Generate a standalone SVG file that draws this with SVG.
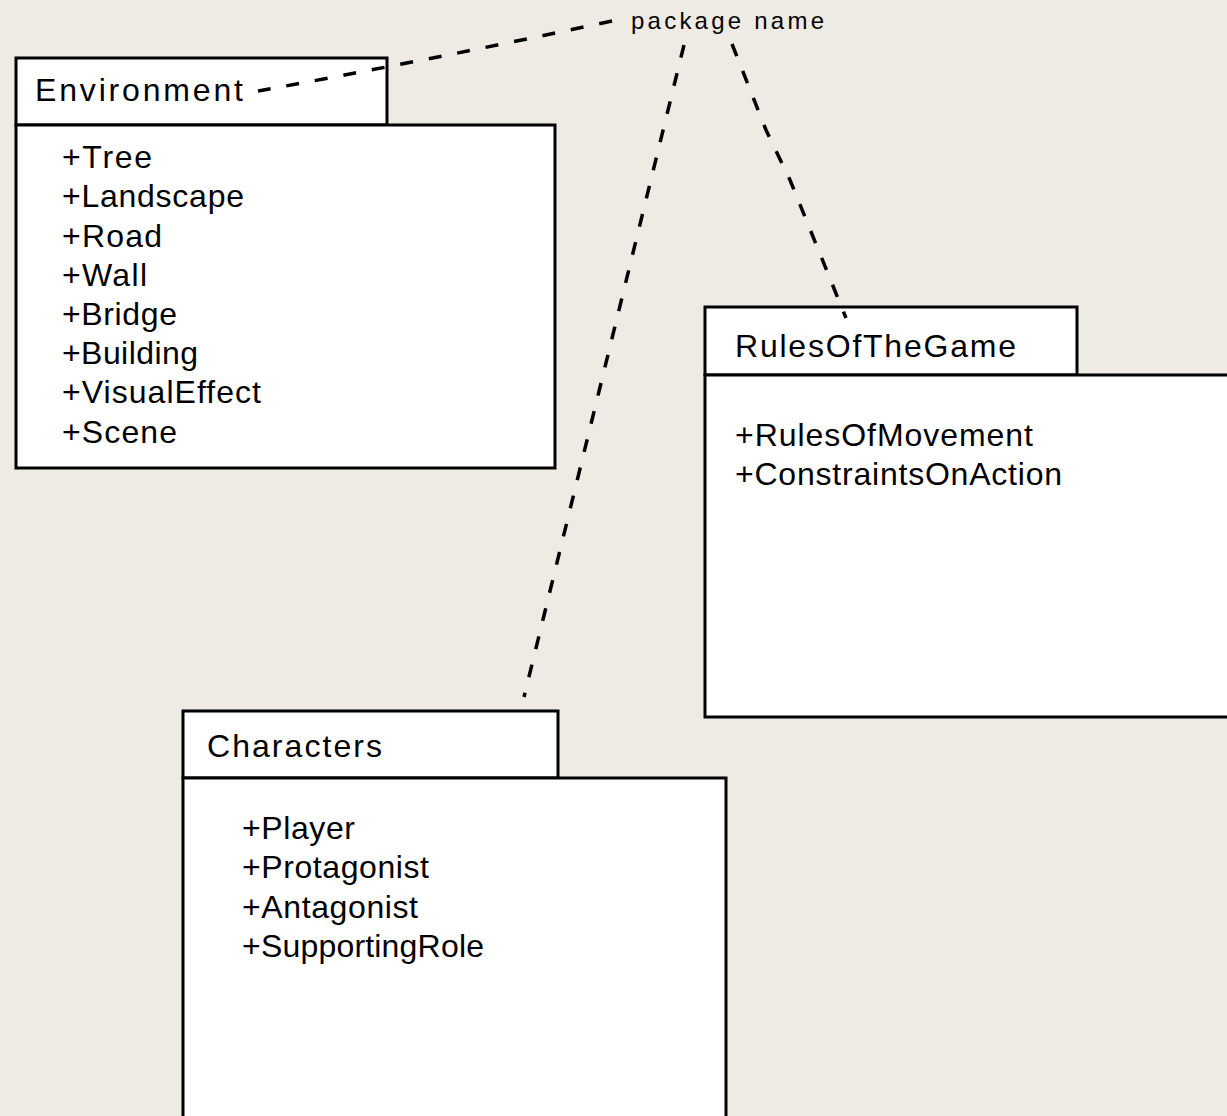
<svg xmlns="http://www.w3.org/2000/svg" width="1227" height="1116" viewBox="0 0 1227 1116">
<style>
.box{fill:#ffffff;stroke:#000000;stroke-width:3}
.t{font-family:"Liberation Sans",Arial,sans-serif;font-size:32px;fill:#000000}
.lbl{font-family:"Liberation Sans",Arial,sans-serif;font-size:24px;fill:#000000}
.dash{fill:none;stroke:#000000;stroke-width:3.5;stroke-dasharray:13 16}
</style>
<rect x="0" y="0" width="1227" height="1116" fill="#EEEBE4"/>
<g id="environment">
<rect class="box" x="16" y="58" width="371" height="67"/>
<rect class="box" x="16" y="125" width="539" height="343"/>
<text class="t" x="35" y="101" textLength="208" lengthAdjust="spacing">Environment</text>
<text class="t" x="62" y="168" textLength="90" lengthAdjust="spacing">+Tree</text>
<text class="t" x="62" y="207" textLength="182" lengthAdjust="spacing">+Landscape</text>
<text class="t" x="62" y="247" textLength="100" lengthAdjust="spacing">+Road</text>
<text class="t" x="62" y="286" textLength="85" lengthAdjust="spacing">+Wall</text>
<text class="t" x="62" y="325" textLength="115" lengthAdjust="spacing">+Bridge</text>
<text class="t" x="62" y="364" textLength="136" lengthAdjust="spacing">+Building</text>
<text class="t" x="62" y="403" textLength="199" lengthAdjust="spacing">+VisualEffect</text>
<text class="t" x="62" y="443" textLength="115" lengthAdjust="spacing">+Scene</text>
</g>
<g id="rulesofthegame">
<rect class="box" x="705" y="307" width="372" height="68"/>
<rect class="box" x="705" y="375" width="540" height="342"/>
<text class="t" x="735" y="357" textLength="281" lengthAdjust="spacing">RulesOfTheGame</text>
<text class="t" x="735" y="446" textLength="298" lengthAdjust="spacing">+RulesOfMovement</text>
<text class="t" x="735" y="485" textLength="327" lengthAdjust="spacing">+ConstraintsOnAction</text>
</g>
<g id="characters">
<rect class="box" x="183" y="711" width="375" height="67"/>
<rect class="box" x="183" y="778" width="543" height="350"/>
<text class="t" x="207" y="757" textLength="175" lengthAdjust="spacing">Characters</text>
<text class="t" x="242" y="839" textLength="113" lengthAdjust="spacing">+Player</text>
<text class="t" x="242" y="878" textLength="187" lengthAdjust="spacing">+Protagonist</text>
<text class="t" x="242" y="918" textLength="176" lengthAdjust="spacing">+Antagonist</text>
<text class="t" x="242" y="957" textLength="242" lengthAdjust="spacing">+SupportingRole</text>
</g>
<g id="package-name">
<text class="lbl" x="631" y="29" textLength="193" lengthAdjust="spacing">package name</text>
</g>
<g id="connectors">
<path class="dash" d="M612,21 Q430,60 258,91"/>
<path class="dash" d="M684,45 L524,697"/>
<path class="dash" d="M732,44 L766,130 L790,180 L846,318"/>
</g>
</svg>
